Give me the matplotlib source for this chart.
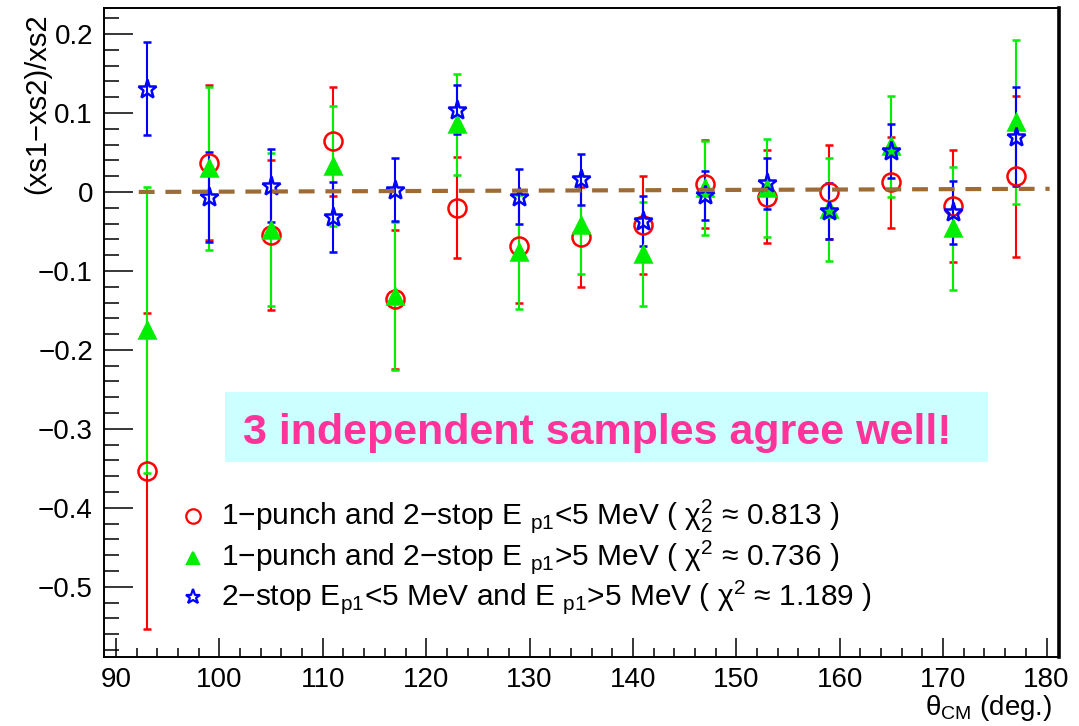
import numpy as np
import matplotlib
matplotlib.use("Agg")
import matplotlib.pyplot as plt
from matplotlib.patches import Rectangle
from matplotlib.ticker import MultipleLocator, FuncFormatter

plt.rcParams['font.family'] = ['Liberation Sans', 'DejaVu Sans']
plt.rcParams['mathtext.fontset'] = 'custom'
plt.rcParams['mathtext.rm'] = 'Liberation Sans'
plt.rcParams['mathtext.it'] = 'Liberation Sans:italic'

# ---- Data ----

theta = [93, 99, 105, 111, 117, 123, 129, 135, 141, 147, 153, 159, 165, 171, 177]

red_val = [-0.353, 0.037, -0.055, 0.064, -0.136, -0.020, -0.069, -0.057,
           -0.042, 0.010, -0.006, 0.000, 0.012, -0.018, 0.020]
red_err = [0.200, 0.098, 0.095, 0.069, 0.088, 0.064, 0.071, 0.063,
           0.062, 0.056, 0.059, 0.059, 0.058, 0.071, 0.102]

green_val = [-0.175, 0.030, -0.048, 0.033, -0.132, 0.086, -0.076, -0.042,
             -0.079, 0.005, 0.005, -0.022, 0.058, -0.046, 0.089]
green_err = [0.181, 0.103, 0.097, 0.076, 0.094, 0.064, 0.072, 0.062,
             0.066, 0.059, 0.062, 0.065, 0.064, 0.078, 0.104]

blue_val = [0.131, -0.007, 0.008, -0.032, 0.003, 0.104, -0.006, 0.016,
            -0.037, -0.004, 0.011, -0.024, 0.052, -0.026, 0.070]
blue_err = [0.059, 0.057, 0.046, 0.044, 0.040, 0.031, 0.035, 0.032,
            0.032, 0.031, 0.032, 0.035, 0.034, 0.040, 0.063]

fit_x = [92.2, 180.3]
fit_y = [0.0, 0.004]

labels = [
    "1\u2212punch and 2\u2212stop E $_{\\mathrm{p1}}$<5 MeV ( \u03c7$^{2}_{2}$ \u2248 0.813 )",
    "1\u2212punch and 2\u2212stop E $_{\\mathrm{p1}}$>5 MeV ( \u03c7$^{2}$ \u2248 0.736 )",
    "2\u2212stop E$_{\\mathrm{p1}}$<5 MeV and E $_{\\mathrm{p1}}$>5 MeV ( \u03c7$^{2}$ \u2248 1.189 )",
]

# ---- Figure ----

fig = plt.figure(figsize=(10.79, 7.26), dpi=100)
ax = fig.add_axes([0.0964, 0.095, 0.885, 0.894])

series = [
    (red_val,   red_err,   '#ff0000', 'o', 13, 'none'),
    (green_val, green_err, '#00ee00', '^', 11, '#00ee00'),
    (blue_val,  blue_err,  '#0000ff', '*', 14, 'none'),
]

for vals, errs, col, mk, ms, mfc in series:
    ax.errorbar(theta, vals, yerr=errs, fmt=mk, color=col, ms=ms, mfc=mfc,
                mec=col, mew=1.8, elinewidth=1.5, capsize=2.8, capthick=1.5)

ax.plot(fit_x, fit_y, color='#9c6b36', lw=3, linestyle=(0, (3.8, 2.6)), zorder=5)

# highlighted comment box
ax.add_patch(Rectangle((100.5, -0.342), 73.8, 0.089, facecolor='#ccffff',
                       edgecolor='none', zorder=1))
ax.text(136.5, -0.305, "3 independent samples agree well!", color='#ff3399',
        fontsize=31, fontweight='bold', ha='center', va='center', zorder=6)

# legend drawn by hand, ROOT style
leg_y = [-0.411, -0.463, -0.513]
for (vals, errs, col, mk, ms, mfc), ly, lab in zip(series, leg_y, labels):
    ax.plot([97.45], [ly], marker=mk, color=col, ms=ms * 0.8, mfc=mfc,
            mec=col, mew=1.6, ls='none')
    ax.text(100.2, ly, lab, fontsize=21.5, va='center', ha='left')

ax.set_xlim(88.84, 181.2)
ax.set_ylim(-0.589, 0.233)

ax.xaxis.set_major_locator(MultipleLocator(10))
ax.xaxis.set_minor_locator(MultipleLocator(2))
ax.yaxis.set_major_locator(MultipleLocator(0.1))
ax.yaxis.set_minor_locator(MultipleLocator(0.02))
ax.yaxis.set_major_formatter(FuncFormatter(
    lambda v, p: ('%g' % (round(v, 2) + 0.0)).replace('-', '\u2212')))

ax.tick_params(axis='both', which='both', direction='in', top=False, right=False,
               width=1.1, labelsize=20)
ax.tick_params(axis='y', which='major', length=21, pad=8)
ax.tick_params(axis='y', which='minor', length=10.5)
ax.tick_params(axis='x', which='major', length=14, pad=7)
ax.tick_params(axis='x', which='minor', length=6.5)

for side in ['left', 'bottom', 'top']:
    ax.spines[side].set_linewidth(1.4)
ax.spines['right'].set_linewidth(2.6)

ax.text(-0.07, 0.992, "(xs1\u2212xs2)/xs2", transform=ax.transAxes, rotation=90,
        ha='center', va='top', fontsize=21)
ax.text(0.993, -0.055, "\u03b8$_{\\mathrm{CM}}$ (deg.)", transform=ax.transAxes,
        ha='right', va='top', fontsize=20)

plt.savefig('out.png', dpi=100)
